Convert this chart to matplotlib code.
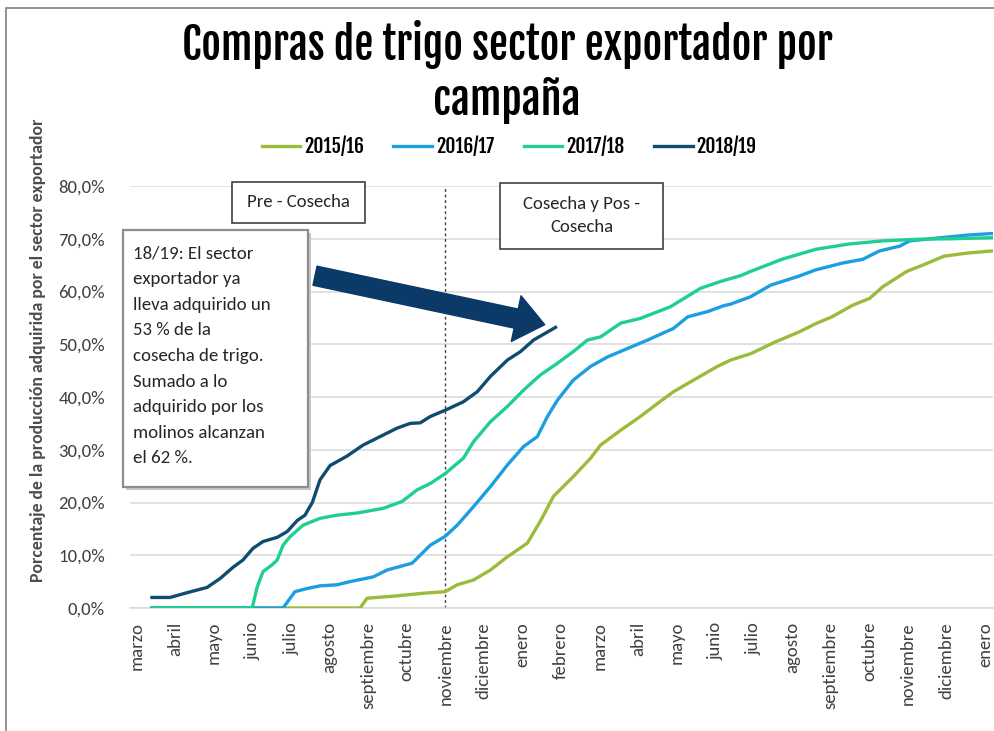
import matplotlib
matplotlib.use("Agg")
import matplotlib.pyplot as plt
from matplotlib.patches import Rectangle, FancyArrowPatch
from matplotlib.ticker import FuncFormatter
from matplotlib import font_manager

# ---------------- data ----------------
month_labels = ["marzo", "abril", "mayo", "junio", "julio", "agosto", "septiembre",
                "octubre", "noviembre", "diciembre", "enero", "febrero", "marzo",
                "abril", "mayo", "junio", "julio", "agosto", "septiembre", "octubre",
                "noviembre", "diciembre", "enero"]

series_names = ["2015/16", "2016/17", "2017/18", "2018/19"]

# x = months elapsed since start of March of the campaign's first year
x_1516 = [0.39, 5.79, 5.97, 6.75, 7.43, 8.00, 8.31, 8.73, 9.17, 9.61, 10.13, 10.47, 10.81,
          11.32, 11.77, 12.03, 12.55, 13.06, 13.51, 13.92, 14.44, 15.06, 15.40, 15.92,
          16.55, 17.17, 17.61, 18.03, 18.57, 19.01, 19.35, 19.97, 20.42, 20.94, 21.56, 22.21]
y_1516 = [0.0, 0.0, 1.85, 2.3, 2.8, 3.1, 4.4, 5.3, 7.2, 9.7, 12.3, 16.5, 21.2,
          24.9, 28.4, 30.9, 33.7, 36.3, 38.8, 41.0, 43.2, 45.8, 47.0, 48.2,
          50.4, 52.3, 53.9, 55.2, 57.4, 58.7, 60.9, 63.8, 65.1, 66.7, 67.3, 67.7]

x_1617 = [0.39, 3.79, 4.10, 4.42, 4.75, 5.19, 5.53, 6.13, 6.49, 7.14, 7.61, 8.00, 8.31,
          8.73, 9.17, 9.61, 10.03, 10.39, 10.65, 10.91, 11.32, 11.77, 12.21, 12.73,
          13.25, 13.92, 14.29, 14.81, 15.22, 15.40, 15.92, 16.44, 17.17, 17.61, 18.31,
          18.83, 19.27, 19.79, 20.05, 20.86, 21.56, 22.21]
y_1617 = [0.0, 0.0, 3.1, 3.7, 4.2, 4.4, 5.0, 5.9, 7.2, 8.5, 11.9, 13.6, 15.7,
          19.2, 23.0, 27.1, 30.6, 32.5, 36.3, 39.4, 43.2, 45.8, 47.6, 49.2,
          50.8, 53.0, 55.2, 56.2, 57.3, 57.6, 59.0, 61.2, 62.9, 64.1, 65.4,
          66.1, 67.7, 68.6, 69.6, 70.2, 70.7, 71.0]

x_1718 = [0.39, 2.99, 3.12, 3.27, 3.51, 3.64, 3.79, 3.97, 4.31, 4.75, 5.19, 5.71, 6.39,
          6.88, 7.27, 7.61, 8.00, 8.47, 8.73, 9.17, 9.61, 10.03, 10.47, 10.91, 11.32,
          11.69, 12.03, 12.55, 13.06, 13.84, 14.62, 15.14, 15.66, 15.92, 16.73, 17.61,
          18.47, 19.35, 20.23, 21.12, 22.21]
y_1718 = [0.0, 0.0, 4.0, 6.9, 8.2, 9.1, 11.9, 13.5, 15.7, 17.0, 17.6, 18.0, 18.9,
          20.2, 22.4, 23.6, 25.5, 28.4, 31.5, 35.3, 38.2, 41.3, 44.2, 46.4, 48.6,
          50.8, 51.4, 54.0, 54.9, 57.1, 60.6, 61.9, 63.0, 63.8, 66.1, 68.0,
          69.0, 69.6, 69.9, 70.0, 70.2]

x_1819 = [0.39, 0.86, 1.30, 1.82, 2.16, 2.49, 2.75, 3.01, 3.27, 3.64, 3.90, 4.16, 4.36,
          4.55, 4.75, 5.01, 5.45, 5.87, 6.31, 6.75, 7.09, 7.35, 7.61, 8.00, 8.47, 8.83,
          9.17, 9.61, 9.95, 10.29, 10.86]
y_1819 = [2.0, 2.0, 2.9, 3.9, 5.6, 7.7, 9.1, 11.3, 12.6, 13.4, 14.5, 16.6, 17.6,
          20.0, 24.3, 27.0, 28.8, 30.9, 32.5, 34.1, 35.0, 35.1, 36.3, 37.5, 39.1, 41.0,
          43.9, 47.0, 48.6, 50.8, 53.2]

yticks = [0, 10, 20, 30, 40, 50, 60, 70, 80]
harvest_start = 8  # noviembre

colors = ["#9BBB3B", "#1C9FE0", "#1FCF92", "#0F4C6F"]

# ---------------- fonts ----------------
faces = font_manager.fontManager.ttflist
avail = {f.name for f in faces}

def has_bold(name):
    return any(f.name == name and f.weight in (600, 700, 800, "bold", "semibold")
               for f in faces)

def pick_heavy():
    # fonts that are already heavy in their regular face
    for c in ["Fjalla One", "Francois One", "Pathway Gothic One"]:
        if c in avail:
            return c, "normal"
    for c in ["Roboto Condensed", "Barlow Condensed", "Fira Sans Condensed",
              "IBM Plex Sans Condensed", "PT Sans Narrow", "Archivo Narrow",
              "Asap Condensed", "Encode Sans Condensed", "Saira Condensed", "Oswald",
              "Liberation Sans Narrow"]:
        if c in avail and has_bold(c):
            return c, "bold"
    return "DejaVu Sans", "bold"

cond_font, cond_weight = pick_heavy()
body_font = "Carlito" if "Carlito" in avail else ("Lato" if "Lato" in avail else "DejaVu Sans")

# ---------------- figure ----------------
W, H = 995, 731
fig = plt.figure(figsize=(W / 100, H / 100), dpi=100)

def fx(px):
    return px / W

def fy(py):
    return 1 - py / H

ax_left, ax_right, ax_top, ax_bottom = 130, 993, 186, 608
ax = fig.add_axes([fx(ax_left), fy(ax_bottom), fx(ax_right) - fx(ax_left),
                   fy(ax_top) - fy(ax_bottom)])

xs = [x_1516, x_1617, x_1718, x_1819]
ys = [y_1516, y_1617, y_1718, y_1819]
lines = []
for name, xv, yv, c in zip(series_names, xs, ys, colors):
    ln, = ax.plot(xv, yv, color=c, lw=2.4, solid_joinstyle="round", label=name, zorder=3)
    lines.append(ln)

ax.set_xlim(-0.18, 22.21)
ax.set_ylim(0, 80)
ax.set_yticks(yticks)
ax.yaxis.set_major_formatter(FuncFormatter(lambda v, p: f"{v:.1f}%".replace(".", ",")))
ax.set_xticks(range(len(month_labels)))
ax.set_xticklabels(month_labels, rotation=90, fontfamily=body_font, fontsize=13.5,
                   color="#404040")
for lab in ax.get_yticklabels():
    lab.set_fontfamily(body_font)
    lab.set_fontsize(13.5)
    lab.set_color("#404040")
ax.tick_params(axis="both", length=0)
ax.tick_params(axis="x", pad=10)
ax.tick_params(axis="y", pad=18)
ax.grid(axis="y", color="#D9D9D9", lw=1.1)
ax.set_axisbelow(True)
for s in ["top", "right", "left"]:
    ax.spines[s].set_visible(False)
ax.spines["bottom"].set_color("#D9D9D9")
ax.spines["bottom"].set_linewidth(1.1)

# dotted separator
ax.axvline(harvest_start, ymin=0, ymax=1.0, color="#404040", lw=1.0,
           ls=(0, (2, 2)), zorder=2)

# arrow
arrow = FancyArrowPatch((4.55, 63.1), (10.65, 53.6),
                        arrowstyle="simple,head_length=1.5,head_width=2.4,tail_width=1.0",
                        mutation_scale=14, color="#0B3A68", zorder=4)
ax.add_patch(arrow)

# title (fit to reference width)
title = fig.text(fx(507), fy(72), "Compras de trigo sector exportador por\ncampaña",
                 ha="center", va="center", fontsize=28, fontweight=cond_weight,
                 fontfamily=cond_font, color="#000000", linespacing=1.2)
r = fig.canvas.get_renderer()
bb = title.get_window_extent(r)
title.set_fontsize(28 * 650 / bb.width)

# legend
leg = fig.legend(handles=lines, labels=series_names, loc="center",
                 bbox_to_anchor=(fx(509), fy(146)), ncol=4, frameon=False,
                 prop={"family": cond_font, "weight": cond_weight, "size": 14},
                 handlelength=2.0, columnspacing=1.5, handletextpad=0.2)

# y label
fig.text(fx(38), fy(350), "Porcentaje de la producción adquirida por el sector exportador",
         rotation=90, ha="center", va="center", fontsize=12.8, fontweight="bold",
         fontfamily=body_font, color="#4D4D4D")

# text boxes
def box(x0, y0, x1, y1, ec="#404040", lw=1.2, shadow=False):
    if shadow:
        fig.patches.append(Rectangle((fx(x0 + 3), fy(y1 + 3)), fx(x1) - fx(x0),
                                     fy(y0) - fy(y1), transform=fig.transFigure,
                                     facecolor="#C8C8C8", edgecolor="none", zorder=4))
    fig.patches.append(Rectangle((fx(x0), fy(y1)), fx(x1) - fx(x0), fy(y0) - fy(y1),
                                 transform=fig.transFigure, facecolor="white",
                                 edgecolor=ec, lw=lw, zorder=5))

box(232, 182, 365, 223)
fig.text(fx(298.5), fy(202), "Pre - Cosecha", ha="center", va="center", fontsize=13.5,
         fontfamily=body_font, color="#262626", zorder=6)

box(500, 183, 663, 249)
fig.text(fx(581.5), fy(215.5), "Cosecha y Pos -\nCosecha", ha="center", va="center",
         fontsize=13.5, fontfamily=body_font, color="#262626", linespacing=1.6, zorder=6)

box(123, 230, 308, 487, ec="#8C8C8C", lw=1.6, shadow=True)
fig.text(fx(133), fy(356), "18/19: El sector\nexportador ya\nlleva adquirido un\n53 % de la\n"
         "cosecha de trigo.\nSumado a lo\nadquirido por los\nmolinos alcanzan\nel 62 %.",
         ha="left", va="center", fontsize=13.6, fontfamily=body_font, color="#262626",
         linespacing=1.74, zorder=6)

# outer chart border
fig.patches.append(Rectangle((fx(6), fy(H + 5)), fx(W + 5) - fx(6), fy(8) - fy(H + 5),
                             transform=fig.transFigure, facecolor="none",
                             edgecolor="#7F7F7F", lw=1.2, zorder=1))

fig.savefig("out.png", dpi=100)
